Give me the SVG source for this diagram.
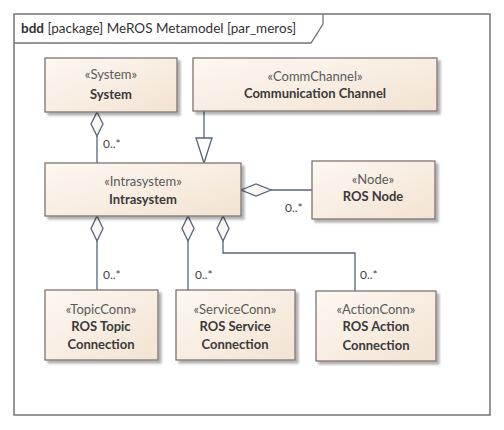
<svg xmlns="http://www.w3.org/2000/svg" width="504" height="430" viewBox="0 0 504 430">
<defs>
<linearGradient id="g" x1="0" y1="0" x2="1" y2="1">
<stop offset="0" stop-color="#fdf8f2"/>
<stop offset="1" stop-color="#f3e3d2"/>
</linearGradient>
<filter id="sh" x="-10%" y="-10%" width="130%" height="140%">
<feDropShadow dx="3" dy="3" stdDeviation="1.2" flood-color="#000" flood-opacity="0.3"/>
</filter>
</defs>
<style>
.box{fill:url(#g);stroke:#7f7370;stroke-width:1.3;filter:url(#sh)}
.st{font-family:Lato,"Open Sans","Liberation Sans",sans-serif;font-size:13px;fill:#5a5a5a;text-anchor:middle}
.nm{font-family:Lato,"Open Sans","Liberation Sans",sans-serif;font-size:13px;font-weight:bold;fill:#3a3a3a;text-anchor:middle}
.lbl{font-family:Lato,"Open Sans","Liberation Sans",sans-serif;font-size:12px;fill:#444}
.ln{fill:none;stroke:#56647a;stroke-width:1.3}
.dm{fill:#fbf7f3;stroke:#56647a;stroke-width:1.3}
.frame{fill:#fff;stroke:#7a7070;stroke-width:1.5}
</style>
<rect width="504" height="430" fill="#fff"/>
<g id="frame">
<rect class="frame" x="14" y="14" width="476" height="401"/>
<path d="M14 43 H311 L323 24 V14" fill="none" stroke="#7a7070" stroke-width="1.3"/>
<text x="21" y="33" font-family="Lato,'Open Sans','Liberation Sans',sans-serif" font-size="13.5" fill="#333"><tspan font-weight="bold">bdd</tspan> [package] MeROS Metamodel [par_meros]</text>
</g>
<g id="connectors">
<path class="ln" d="M97 136 V163"/>
<path class="dm" d="M97 112 L103 124 L97 136 L91 124 Z"/>
<text class="lbl" x="103" y="148">0..*</text>
<path class="ln" d="M204 111 V138"/>
<path d="M196 138 H212 L204 163 Z" fill="#fff" stroke="#56647a" stroke-width="1.3"/>
<path class="ln" d="M271 190 H312"/>
<path class="dm" d="M241 190 L256 184 L271 190 L256 196 Z"/>
<text class="lbl" x="285" y="212">0..*</text>
<path class="ln" d="M97 241 V290"/>
<path class="dm" d="M97 216 L103 228.5 L97 241 L91 228.5 Z"/>
<text class="lbl" x="103" y="279">0..*</text>
<path class="ln" d="M188 241 V290"/>
<path class="dm" d="M188 216 L194 228.5 L188 241 L182 228.5 Z"/>
<text class="lbl" x="195" y="279">0..*</text>
<path class="ln" d="M223 241 V253 H355 V291"/>
<path class="dm" d="M223 216 L229 228.5 L223 241 L217 228.5 Z"/>
<text class="lbl" x="360" y="279">0..*</text>
</g>
<g id="system">
<rect class="box" x="45" y="58" width="132" height="54"/>
<text class="st" x="111" y="79">«System»</text>
<text class="nm" x="111" y="99">System</text>
</g>
<g id="commchannel">
<rect class="box" x="193" y="58" width="244" height="53"/>
<text class="st" x="315" y="81">«CommChannel»</text>
<text class="nm" x="315" y="98">Communication Channel</text>
</g>
<g id="intrasystem">
<rect class="box" x="45" y="163" width="196" height="53"/>
<text class="st" x="143" y="186">«Intrasystem»</text>
<text class="nm" x="143" y="204">Intrasystem</text>
</g>
<g id="node">
<rect class="box" x="312" y="161" width="123" height="58"/>
<text class="st" x="373" y="184">«Node»</text>
<text class="nm" x="373" y="201">ROS Node</text>
</g>
<g id="topicconn">
<rect class="box" x="45" y="290" width="113" height="70"/>
<text class="st" x="101" y="314">«TopicConn»</text>
<text class="nm" x="101" y="331">ROS Topic</text>
<text class="nm" x="101" y="349">Connection</text>
</g>
<g id="serviceconn">
<rect class="box" x="176" y="290" width="119" height="70"/>
<text class="st" x="235" y="314">«ServiceConn»</text>
<text class="nm" x="235" y="331">ROS Service</text>
<text class="nm" x="235" y="349">Connection</text>
</g>
<g id="actionconn">
<rect class="box" x="316" y="291" width="120" height="70"/>
<text class="st" x="376" y="314">«ActionConn»</text>
<text class="nm" x="376" y="331">ROS Action</text>
<text class="nm" x="376" y="350">Connection</text>
</g>
</svg>
